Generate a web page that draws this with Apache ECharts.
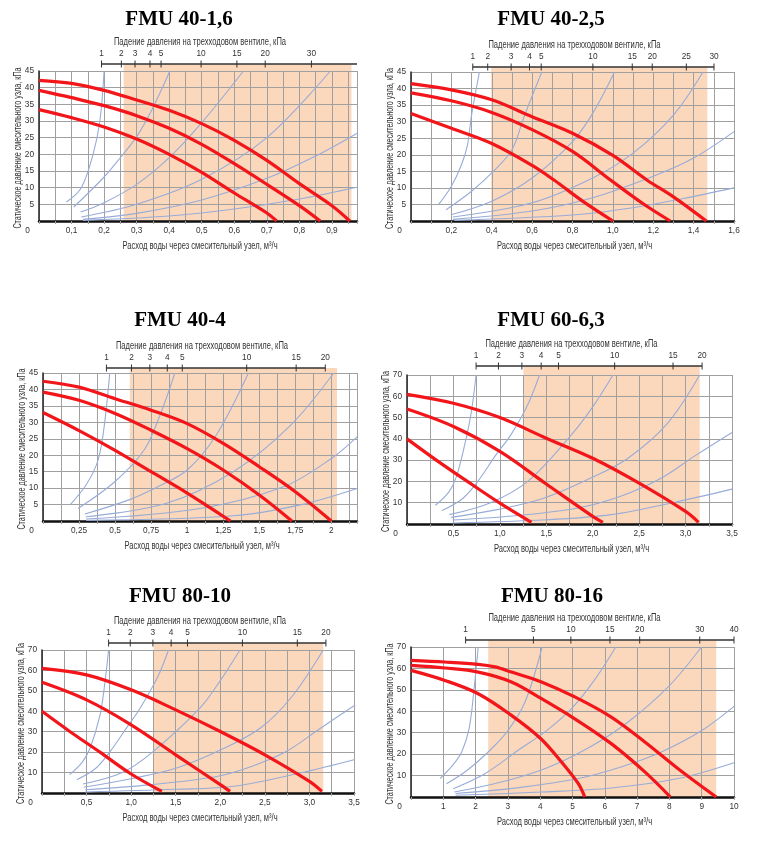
<!DOCTYPE html>
<html>
<head>
<meta charset="utf-8">
<script src="https://cdn.jsdelivr.net/npm/echarts@6/dist/echarts.min.js"></script>
<style>
  html, body { margin: 0; padding: 0; background: #fff; }
  #main { width: 757px; height: 841px; }
</style>
</head>
<body>
<div id="main"></div>
<script>
// ---------- FMU 40-1,6 ----------
var p1RedA = [[0,42.2],[0.1,41.3],[0.2,39.2],[0.3,36.3],[0.4,33.2],[0.5,29.2],[0.6,24.2],[0.7,18.2],[0.8,11.2],[0.9,4.6],[0.955,0]];
var p1RedB = [[0,39.2],[0.1,37],[0.2,34.6],[0.3,31.6],[0.4,27.8],[0.5,23],[0.6,17.2],[0.7,11],[0.8,4.6],[0.864,0]];
var p1RedC = [[0,33.4],[0.1,31],[0.2,28.2],[0.3,24.6],[0.4,20],[0.5,14.6],[0.6,8.4],[0.7,2.4],[0.73,0]];
var p1Blue = [
  [[0.084,5.7],[0.13,10],[0.166,20],[0.187,30],[0.2,45]],
  [[0.107,4.2],[0.2,13.2],[0.25,19],[0.3,25.3],[0.35,34],[0.402,45]],
  [[0.128,2.7],[0.2,5.5],[0.3,11],[0.4,19],[0.5,29.5],[0.628,45]],
  [[0.13,1.2],[0.3,5],[0.5,12.5],[0.7,25],[0.895,45]],
  [[0.135,0.5],[0.3,2.3],[0.5,6.3],[0.7,12.8],[0.85,19.5],[0.98,26.5]],
  [[0.135,0.2],[0.4,1.5],[0.6,3.6],[0.8,6.6],[0.98,10.2]]
];
var p1XVals = [0,0.1,0.2,0.3,0.4,0.5,0.6,0.7,0.8,0.9];
var p1XText = ['0','0,1','0,2','0,3','0,4','0,5','0,6','0,7','0,8','0,9'];
var p1Kpa = ['1','2','3','4','5','10','15','20','30'];
var p1KpaPos = [0.192,0.253,0.295,0.341,0.375,0.498,0.608,0.695,0.837];
var p1Band = [0.26, 0.96];

// ---------- FMU 40-2,5 ----------
var p2RedA = [[0,41.5],[0.2,39.6],[0.4,36.6],[0.6,31.5],[0.8,26.5],[1.0,19.8],[1.17,12.3],[1.3,7.3],[1.463,0]];
var p2RedB = [[0,38.7],[0.2,36.3],[0.4,32.8],[0.6,27.6],[0.8,21],[0.99,12.3],[1.15,5.2],[1.284,0]];
var p2RedC = [[0,32.5],[0.2,28],[0.4,23.4],[0.6,16.8],[0.71,12.3],[0.85,6],[1.0,0]];
var p2Blue = [
  [[0.137,5],[0.2,10.5],[0.25,17],[0.28,23],[0.3,32],[0.339,45]],
  [[0.174,3.4],[0.3,9],[0.4,14.5],[0.5,21.5],[0.56,31.5],[0.648,45]],
  [[0.198,1.9],[0.4,6],[0.6,13],[0.8,24],[0.9,32.5],[1.008,45]],
  [[0.207,1.2],[0.6,5.5],[0.9,13],[1.1,20.5],[1.3,32],[1.446,45]],
  [[0.207,0.5],[0.6,3],[0.9,7],[1.2,13.5],[1.4,19],[1.6,27]],
  [[0.215,0.2],[0.8,1.8],[1.1,4],[1.35,6.8],[1.6,10]]
];
var p2XVals = [0,0.2,0.4,0.6,0.8,1.0,1.2,1.4,1.6];
var p2XText = ['0','0,2','0,4','0,6','0,8','1,0','1,2','1,4','1,6'];
var p2Kpa = ['1','2','3','4','5','10','15','20','25','30'];
var p2KpaPos = [0.306,0.380,0.496,0.587,0.645,0.901,1.096,1.195,1.364,1.501];
var p2Band = [0.397, 1.468];

// ---------- FMU 40-4 ----------
var p3RedA = [[0,42.5],[0.25,40.7],[0.5,37.2],[0.75,33.7],[1.0,29.6],[1.25,23.6],[1.5,16.5],[1.75,8.9],[2.0,0]];
var p3RedB = [[0,39.2],[0.25,36.7],[0.5,32.7],[0.75,27.6],[1.0,22],[1.25,15.5],[1.5,7.9],[1.726,0]];
var p3RedC = [[0,33],[0.25,27.5],[0.5,21.5],[0.75,15],[1.0,8.5],[1.15,4.3],[1.3,0]];
var p3Blue = [
  [[0.19,5],[0.3,11],[0.37,17],[0.405,23],[0.436,33],[0.463,45]],
  [[0.243,3.8],[0.5,12],[0.7,21.5],[0.81,32],[0.915,45]],
  [[0.29,2.1],[0.6,6.5],[0.8,10.5],[1.0,15.5],[1.2,26],[1.425,45]],
  [[0.297,1.3],[0.857,5.4],[1.32,15],[1.715,29],[2.016,45]],
  [[0.3,0.6],[1.09,3.8],[1.668,10.4],[2.0,19],[2.178,25.6]],
  [[0.3,0.2],[1.32,1.6],[1.784,4.9],[2.178,9.9]]
];
var p3XVals = [0,0.25,0.5,0.75,1,1.25,1.5,1.75,2];
var p3XText = ['0','0,25','0,5','0,75','1','1,25','1,5','1,75','2'];
var p3Kpa = ['1','2','3','4','5','10','15','20'];
var p3KpaPos = [0.44,0.614,0.741,0.862,0.966,1.413,1.756,1.958];
var p3Band = [0.602, 2.039];

// ---------- FMU 60-6,3 ----------
var p4RedA = [[0,60.9],[0.5,56.7],[1.0,50],[1.5,40.3],[2.0,30.9],[2.5,19.2],[3.0,5.9],[3.14,0.8]];
var p4RedB = [[0,54],[0.5,45.8],[1.0,34.1],[1.5,18.8],[2.0,3.6],[2.11,0.8]];
var p4RedC = [[0,40],[0.3,30.5],[0.65,20],[1.0,9.8],[1.34,0.8]];
var p4Blue = [
  [[0.306,8.8],[0.45,15],[0.53,22],[0.62,37],[0.69,52],[0.744,70]],
  [[0.377,6.3],[0.6,12],[0.762,20],[0.95,32],[1.12,42],[1.3,56],[1.427,70]],
  [[0.457,4.4],[0.9,10],[1.3,20],[1.77,41.9],[2.0,55],[2.218,70]],
  [[0.474,3.1],[1.0,7],[1.48,12.2],[2.0,22],[2.38,30.9],[2.8,47],[3.152,70]],
  [[0.492,1.9],[1.2,4],[1.84,7.5],[2.3,13],[2.74,21.6],[3.1,32],[3.5,43]],
  [[0.492,0.5],[1.5,2],[2.2,4.4],[2.92,10.6],[3.5,16.4]]
];
var p4XVals = [0,0.5,1,1.5,2,2.5,3,3.5];
var p4XText = ['0','0,5','1,0','1,5','2,0','2,5','3,0','3,5'];
var p4Kpa = ['1','2','3','4','5','10','15','20'];
var p4KpaPos = [0.744,0.985,1.237,1.445,1.632,2.236,2.865,3.178];
var p4Band = [1.254, 3.152];

// ---------- FMU 80-10 ----------
var p5RedA = [[0,61],[0.5,57.8],[1.0,50.5],[1.5,40.7],[2.0,30.1],[2.5,18.7],[3.0,5.7],[3.14,0.8]];
var p5RedB = [[0,54.2],[0.5,45.6],[1.0,33.4],[1.5,18.7],[2.0,4.1],[2.11,0.8]];
var p5RedC = [[0,40],[0.3,30.5],[0.65,20],[1.0,9.3],[1.344,0.8]];
var p5Blue = [
  [[0.31,9],[0.45,15],[0.54,22],[0.65,38],[0.7,52],[0.747,70]],
  [[0.39,6.5],[0.6,12],[0.765,20.4],[0.95,32],[1.1,41.5],[1.3,57],[1.419,70]],
  [[0.46,4.4],[0.9,10],[1.25,20.4],[1.77,41.5],[2.0,55],[2.22,70]],
  [[0.467,2.8],[1.0,7],[1.51,12.2],[2.0,21],[2.45,31.8],[2.8,47],[3.155,70]],
  [[0.485,1.6],[1.2,4],[1.96,8.1],[2.35,13],[2.745,20.4],[3.1,31],[3.5,42.7]],
  [[0.485,0.5],[1.5,1.8],[2.15,3.3],[2.894,9.8],[3.5,16.3]]
];
var p5XVals = [0,0.5,1,1.5,2,2.5,3,3.5];
var p5XText = ['0','0,5','1,0','1,5','2,0','2,5','3,0','3,5'];
var p5Kpa = ['1','2','3','4','5','10','15','20'];
var p5KpaPos = [0.747,0.99,1.244,1.449,1.632,2.248,2.864,3.185];
var p5Band = [1.251, 3.155];

// ---------- FMU 80-16 ----------
var p6RedA = [[0,63.8],[1.05,63],[2.08,61.9],[2.6,60.7],[3.11,58.3],[4.04,53.7],[5.07,46.7],[6.2,37.3],[7.24,25.7],[8.27,13.2],[9.45,0]];
var p6RedB = [[0,61.4],[1.05,60.2],[2.08,58.3],[3.11,53.7],[4.04,45.9],[5.07,36.5],[6.2,24.9],[7.24,11.7],[8.03,0]];
var p6RedC = [[0,59.1],[1.05,54.4],[2.08,48.2],[3.11,38.1],[4.02,27.2],[4.66,16.3],[5.18,6.2],[5.38,0]];
var p6Blue = [
  [[0.9,8.6],[1.3,15],[1.57,21],[1.8,32],[1.95,50],[2.08,70]],
  [[1.1,6.2],[1.7,12],[2.39,21],[3.0,31],[3.53,44.3],[4.06,70]],
  [[1.31,3.9],[2.3,11],[3.32,21.8],[4.2,31],[4.97,41.2],[5.7,55],[6.34,70]],
  [[1.34,2.3],[2.8,7],[4.14,13.2],[5.5,23],[6.72,35],[8,52],[8.99,70]],
  [[1.38,1.6],[3.4,4.5],[5.18,8.6],[6.5,14],[7.75,21],[9,31],[10,42.3]],
  [[1.38,0.8],[4,2.3],[6.2,4.2],[8.27,8.6],[10,16]]
];
var p6XVals = [0,1,2,3,4,5,6,7,8,9,10];
var p6XText = ['0','1','2','3','4','5','6','7','8','9','10'];
var p6Kpa = ['1','5','10','15','20','30','40'];
var p6KpaPos = [1.69,3.79,4.95,6.16,7.08,8.94,10];
var p6Band = [2.39, 9.45];

var yName = 'Статическое давление смесительного узла, кПа';
var xName = 'Расход воды через смесительный узел, м³/ч';
var topName = 'Падение давления на трехходовом вентиле, кПа';

var panels = [
  {title: 'FMU 40-1,6', tx: 174, ty: 4, grid: {left: 39, top: 71, width: 318, height: 150}, xMax: 0.977, xStep: 0.05, yMax: 45, yStep: 5, off: 7,
   red: [p1RedA, p1RedB, p1RedC], blue: p1Blue, xv: p1XVals, xt: p1XText, kpa: p1Kpa, kpos: p1KpaPos, band: p1Band, lineEnd: 0.977},
  {title: 'FMU 40-2,5', tx: 546, ty: 4, grid: {left: 411, top: 72, width: 323, height: 149}, xMax: 1.6, xStep: 0.1, yMax: 45, yStep: 5, off: 5,
   red: [p2RedA, p2RedB, p2RedC], blue: p2Blue, xv: p2XVals, xt: p2XText, kpa: p2Kpa, kpos: p2KpaPos, band: p2Band, lineEnd: 1.501},
  {title: 'FMU 40-4', tx: 175, ty: 305, grid: {left: 43, top: 373, width: 314, height: 148}, xMax: 2.178, xStep: 0.125, yMax: 45, yStep: 5, off: 5,
   red: [p3RedA, p3RedB, p3RedC], blue: p3Blue, xv: p3XVals, xt: p3XText, kpa: p3Kpa, kpos: p3KpaPos, band: p3Band, lineEnd: 1.958},
  {title: 'FMU 60-6,3', tx: 546, ty: 305, grid: {left: 407, top: 375, width: 325, height: 149}, xMax: 3.5, xStep: 0.25, yMax: 70, yStep: 10, off: 9,
   red: [p4RedA, p4RedB, p4RedC], blue: p4Blue, xv: p4XVals, xt: p4XText, kpa: p4Kpa, kpos: p4KpaPos, band: p4Band, lineEnd: 3.178},
  {title: 'FMU 80-10', tx: 175, ty: 581, grid: {left: 42, top: 650, width: 312, height: 143}, xMax: 3.5, xStep: 0.25, yMax: 70, yStep: 10, off: 7,
   red: [p5RedA, p5RedB, p5RedC], blue: p5Blue, xv: p5XVals, xt: p5XText, kpa: p5Kpa, kpos: p5KpaPos, band: p5Band, lineEnd: 3.185},
  {title: 'FMU 80-16', tx: 547, ty: 581, grid: {left: 411, top: 647, width: 323, height: 150}, xMax: 10, xStep: 1, yMax: 70, yStep: 10, off: 7,
   red: [p6RedA, p6RedB, p6RedC], blue: p6Blue, xv: p6XVals, xt: p6XText, kpa: p6Kpa, kpos: p6KpaPos, band: p6Band, lineEnd: 10}
];

var FONT = '"Liberation Sans", Arial, sans-serif';
var FS = 8.3;
var NAME_SCALE = 0.72;   // the original uses a condensed face
var GRID = '#a0a0a0';
var RED = '#f2161b';
var BLUE = '#98acd8';
var PEACH = '#fbd7bb';

function pick(vals, texts, v) {
  var b = 0;
  for (var i = 1; i < vals.length; i++) {
    if (Math.abs(vals[i] - v) < Math.abs(vals[b] - v)) b = i;
  }
  return texts[b];
}

function nameText(text, x, y, size, rot) {
  return {
    type: 'text', x: x, y: y, rotation: rot || 0, scaleX: NAME_SCALE, silent: true, z: 10,
    style: {text: text, fontFamily: FONT, fontSize: size, fill: '#333', align: 'center', verticalAlign: 'middle'}
  };
}

var titles = [], grids = [], xAxes = [], yAxes = [], series = [], graphics = [];

panels.forEach(function (p, i) {
  var g = p.grid;
  titles.push({
    text: p.title, left: p.tx, top: p.ty, textAlign: 'center',
    textStyle: {fontFamily: '"Liberation Serif", "Times New Roman", serif', fontWeight: 'bold', fontSize: 21, color: '#000'}
  });
  grids.push(g);

  // axis titles (condensed)
  graphics.push(nameText(topName, g.left + g.width / 2 + 2, g.top - p.off - 21.5, 10.5));
  graphics.push(nameText(xName, g.left + g.width / 2 + 2, g.top + g.height + 25, 10.5));
  graphics.push(nameText(yName, g.left - 21, g.top + g.height / 2 + 2, 10, Math.PI / 2));

  // bottom axis
  xAxes.push({
    gridIndex: i, type: 'value', min: 0, max: p.xMax, interval: p.xStep,
    axisLine: {show: true, lineStyle: {color: '#111', width: 2.5}},
    axisTick: {show: true, length: 3, lineStyle: {color: GRID}},
    splitLine: {show: true, lineStyle: {color: GRID, width: 1}},
    axisLabel: {
      customValues: p.xv, margin: 6, fontFamily: FONT, fontSize: FS, color: '#333',
      formatter: function (v) {
        var t = pick(p.xv, p.xt, v);
        return v === 0 ? '{o|' + t + '}' : t;
      },
      rich: {o: {padding: [0, 23, 0, 0], fontFamily: FONT, fontSize: FS, color: '#333'}}
    }
  });
  // top axis: pressure drop on the valve (labels only, line and ticks drawn below)
  xAxes.push({
    gridIndex: i, type: 'value', position: 'top', offset: p.off, min: 0, max: p.xMax,
    axisLine: {show: false},
    axisTick: {show: false},
    splitLine: {show: false},
    axisLabel: {
      customValues: p.kpos, margin: 6, fontFamily: FONT, fontSize: FS, color: '#333',
      formatter: function (v) { return pick(p.kpos, p.kpa, v); }
    }
  });
  yAxes.push({
    gridIndex: i, type: 'value', min: 0, max: p.yMax, interval: p.yStep,
    axisLine: {show: true, lineStyle: {color: '#222', width: 1.5}},
    axisTick: {show: false},
    splitLine: {show: true, lineStyle: {color: GRID, width: 1}},
    axisLabel: {
      margin: 5, fontFamily: FONT, fontSize: FS, color: '#333',
      formatter: function (v) { return v === 0 ? '' : String(v); }
    }
  });

  var xi = i * 2, yi = i;
  // working range band
  series.push({
    type: 'custom', xAxisIndex: xi, yAxisIndex: yi, z: -1, silent: true,
    data: [p.band],
    renderItem: function (params, api) {
      var cs = params.coordSys;
      var x0 = api.coord([api.value(0), 0])[0];
      var x1 = api.coord([api.value(1), 0])[0];
      return {type: 'rect', shape: {x: x0, y: cs.y - p.off, width: x1 - x0, height: cs.height + p.off}, style: {fill: PEACH}};
    }
  });
  // top scale line with crossing ticks
  series.push({
    type: 'custom', xAxisIndex: xi, yAxisIndex: yi, z: 4, silent: true,
    data: [[p.kpos[0], p.lineEnd]],
    renderItem: function (params, api) {
      var cs = params.coordSys;
      var y = cs.y - p.off;
      var x0 = api.coord([api.value(0), 0])[0];
      var x1 = api.coord([api.value(1), 0])[0];
      var kids = [{type: 'line', shape: {x1: x0, y1: y, x2: x1, y2: y}, style: {stroke: '#333', lineWidth: 1.3}}];
      p.kpos.forEach(function (k) {
        var xk = api.coord([k, 0])[0];
        kids.push({type: 'line', shape: {x1: xk, y1: y - 3.5, x2: xk, y2: y + 3.5}, style: {stroke: '#333', lineWidth: 1}});
      });
      return {type: 'group', children: kids};
    }
  });
  p.blue.forEach(function (d) {
    series.push({
      type: 'line', xAxisIndex: xi, yAxisIndex: yi, data: d, smooth: 0.35,
      symbol: 'none', silent: true, z: 2, lineStyle: {color: BLUE, width: 1.1}
    });
  });
  p.red.forEach(function (d) {
    series.push({
      type: 'line', xAxisIndex: xi, yAxisIndex: yi, data: d, smooth: 0.35,
      symbol: 'none', silent: true, z: 3, lineStyle: {color: RED, width: 3.2}
    });
  });
});

var chart = echarts.init(document.getElementById('main'), null, {renderer: 'canvas'});
chart.setOption({
  animation: false,
  backgroundColor: '#fff',
  title: titles,
  grid: grids,
  xAxis: xAxes,
  yAxis: yAxes,
  series: series,
  graphic: graphics
});
</script>
</body>
</html>
